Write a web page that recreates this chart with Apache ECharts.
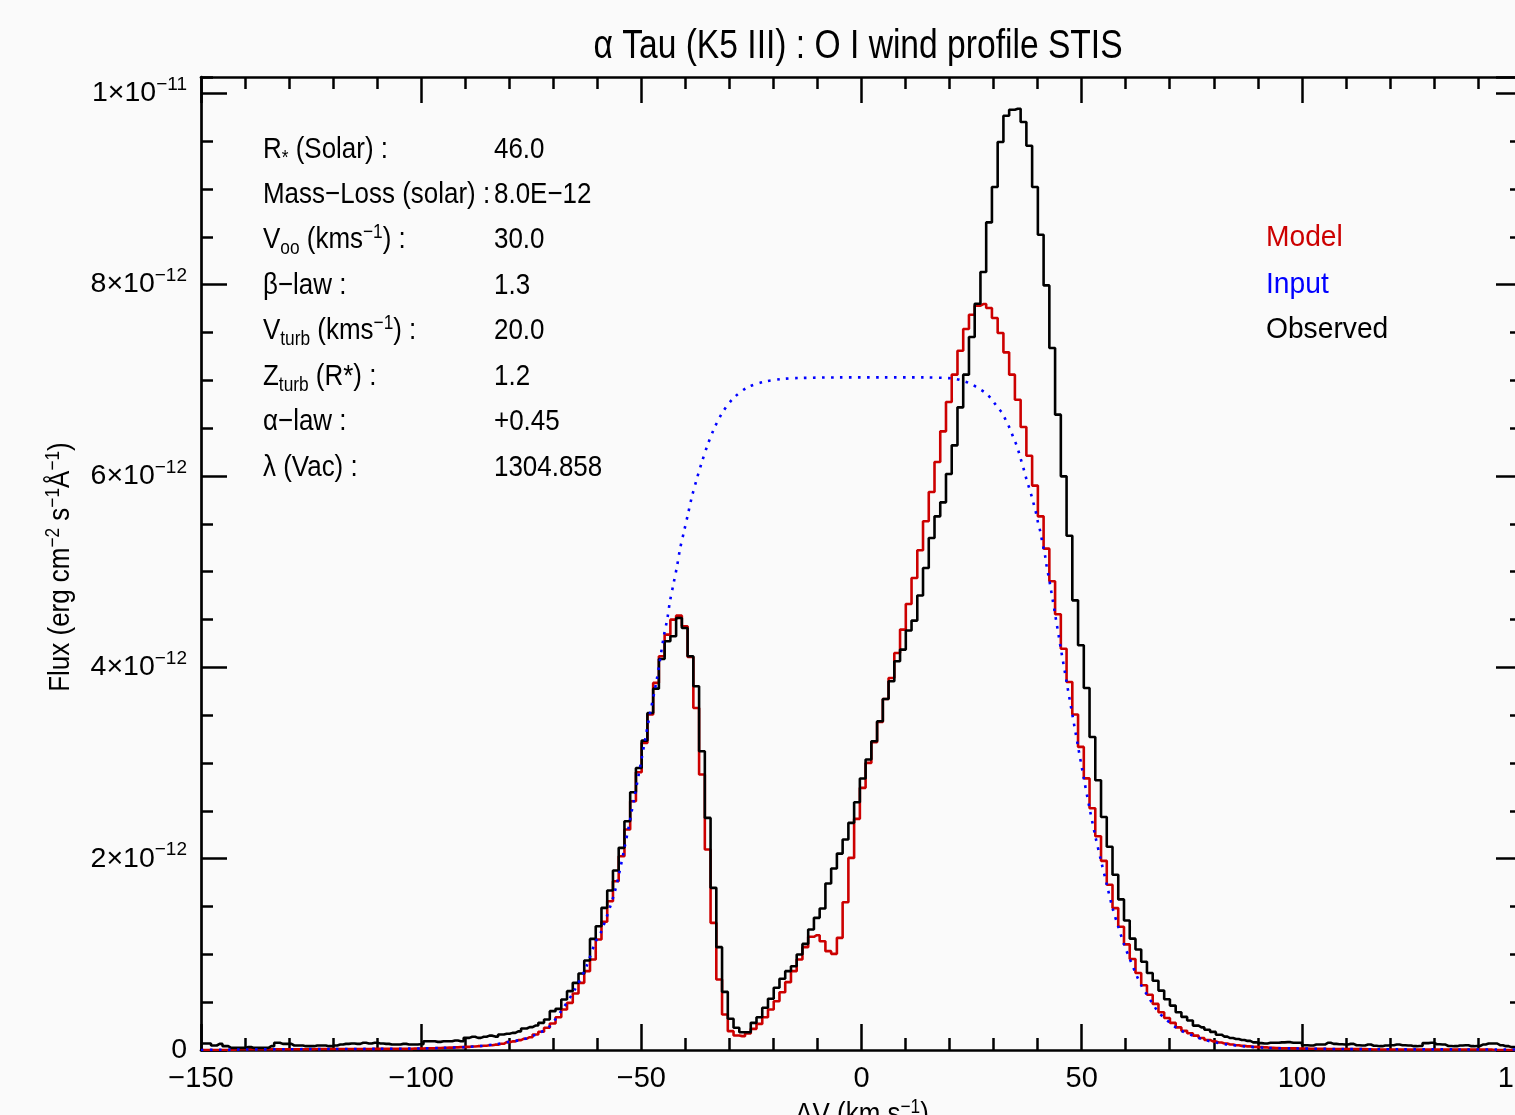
<!DOCTYPE html>
<html><head><meta charset="utf-8">
<script src="https://cdn.jsdelivr.net/npm/echarts@6/dist/echarts.min.js"></script>
<style>html,body{margin:0;padding:0;background:#fafafa}#c{width:1515px;height:1115px}</style>
</head><body><div id="c"></div>
<script>
const FONT = "'Liberation Sans','Helvetica','Arial',sans-serif";

// velocity bins (km/s): centre of first bin and bin width
const firstBinCenter = -149.68;
const binWidth = 1.304;

// Observed flux (units of 1e-12 erg cm-2 s-1 A-1), one value per bin
const observed = [
  0.068,0.068,0.047,0.064,0.040,0.022,0.022,0.022,0.030,0.022,
  0.022,0.022,0.040,0.075,0.064,0.064,0.047,0.047,0.040,0.040,
  0.047,0.047,0.040,0.047,0.057,0.064,0.068,0.064,0.075,0.068,
  0.075,0.068,0.064,0.057,0.057,0.064,0.057,0.057,0.060,0.092,
  0.092,0.085,0.092,0.092,0.099,0.092,0.127,0.138,0.127,0.138,
  0.150,0.140,0.162,0.170,0.179,0.195,0.225,0.239,0.256,0.284,
  0.319,0.406,0.430,0.528,0.615,0.702,0.799,0.935,1.161,1.294,
  1.486,1.667,1.876,2.113,2.391,2.694,2.948,3.234,3.523,3.777,
  4.087,4.272,4.324,4.516,4.411,4.115,3.802,3.122,2.426,1.695,
  1.075,0.608,0.326,0.232,0.186,0.186,0.284,0.343,0.441,0.535,
  0.650,0.744,0.824,0.876,0.998,1.109,1.259,1.381,1.479,1.740,
  1.897,2.053,2.200,2.374,2.590,2.837,3.036,3.227,3.436,3.669,
  3.854,4.063,4.185,4.384,4.488,4.750,5.038,5.352,5.578,5.724,
  6.021,6.320,6.717,7.059,7.452,7.800,8.132,8.650,9.020,9.490,
  9.765,9.828,9.838,9.699,9.451,9.020,8.521,7.992,7.337,6.641,
  5.996,5.375,4.700,4.231,3.784,3.271,2.820,2.436,2.124,1.831,
  1.574,1.354,1.164,1.050,0.922,0.805,0.724,0.621,0.530,0.464,
  0.394,0.346,0.309,0.255,0.236,0.211,0.189,0.160,0.140,0.125,
  0.115,0.105,0.095,0.080,0.072,0.068,0.075,0.075,0.080,0.082,
  0.075,0.075,0.050,0.047,0.057,0.057,0.075,0.064,0.060,0.057,
  0.064,0.050,0.047,0.057,0.045,0.040,0.047,0.050,0.057,0.050,
  0.047,0.040,0.042,0.072,0.075,0.060,0.057,0.042,0.040,0.047,
  0.050,0.040,0.042,0.057,0.068,0.068,0.050,0.040,0.030,0.025
];

// Model flux, same bins
const model = [
  0.000,0.000,0.000,0.000,0.000,0.000,0.008,0.008,0.008,0.008,
  0.008,0.008,0.008,0.008,0.008,0.008,0.008,0.008,0.008,0.008,
  0.010,0.010,0.010,0.010,0.010,0.010,0.010,0.010,0.010,0.010,
  0.012,0.012,0.012,0.012,0.012,0.012,0.012,0.015,0.016,0.018,
  0.019,0.021,0.023,0.025,0.027,0.030,0.033,0.036,0.040,0.044,
  0.049,0.056,0.065,0.082,0.090,0.103,0.118,0.134,0.162,0.190,
  0.232,0.277,0.343,0.423,0.493,0.591,0.702,0.824,0.946,1.155,
  1.340,1.555,1.764,2.025,2.304,2.600,2.903,3.210,3.506,3.837,
  4.115,4.342,4.498,4.540,4.429,4.108,3.575,2.879,2.095,1.329,
  0.737,0.371,0.197,0.152,0.145,0.172,0.221,0.273,0.343,0.423,
  0.510,0.604,0.709,0.824,0.946,1.075,1.183,1.200,1.137,1.033,
  1.005,1.172,1.545,2.008,2.416,2.740,3.001,3.217,3.429,3.669,
  3.889,4.150,4.394,4.662,4.934,5.223,5.526,5.833,6.146,6.466,
  6.773,7.059,7.309,7.536,7.685,7.780,7.797,7.755,7.651,7.494,
  7.292,7.059,6.797,6.512,6.212,5.899,5.578,5.240,4.899,4.554,
  4.194,3.846,3.506,3.168,2.839,2.527,2.234,1.977,1.728,1.483,
  1.288,1.104,0.951,0.805,0.676,0.577,0.482,0.394,0.335,0.284,
  0.236,0.200,0.175,0.150,0.126,0.105,0.090,0.078,0.068,0.057,
  0.050,0.043,0.038,0.033,0.030,0.027,0.022,0.020,0.019,0.018,
  0.017,0.016,0.014,0.013,0.012,0.012,0.011,0.011,0.010,0.010,
  0.010,0.009,0.009,0.008,0.006,0.006,0.006,0.006,0.006,0.006,
  0.006,0.006,0.006,0.006,0.006,0.006,0.006,0.006,0.006,0.006,
  0.006,0.006,0.006,0.006,0.006,0.000,0.000,0.000,0.000,0.000
];

// Input (intrinsic) profile, read as velocity / flux pairs
const inputVelocity = [-150,-140,-130,-120,-110,-100,-95,-90,-86,-83,-80,-77,-74,-71,-68,-65,-62.5,-60.5,
  -59.0,-56.0,-53.75,-51.6,-49.96,-48.3,-46.5,-44.9,-44.1,-43.5,-42.7,-41.9,-41.2,-40.3,-39.4,-38.5,-37.4,
  -36.25,-34.95,-33.45,-31.55,-29.05,-25.9,-22.1,-18.0,-14.0,-5,5,14,20.6,22.6,24.5,26.4,28.1,29.4,30.7,
  31.9,32.8,33.75,34.5,35.3,35.9,36.9,37.5,38.1,38.7,39.2,39.7,40.1,40.6,41.0,41.4,41.8,42.1,42.5,
  43.97,45.27,46.58,47.88,49.19,50.49,51.79,53.10,54.40,55.71,57.01,58.32,59.62,60.93,62.23,63.53,64.84,
  66.14,67.45,68.75,70.06,71.36,72.66,75.27,77.88,80.49,83.1,87.0,92.2,98.7,109.2,122.2,135.2,150];
const inputFlux = [0.0,0.005,0.008,0.010,0.012,0.016,0.022,0.030,0.045,0.060,0.085,0.110,0.160,0.240,0.420,0.640,0.870,1.120,
  1.250,1.659,2.130,2.635,3.036,3.453,3.871,4.324,4.506,4.690,4.871,5.055,5.240,5.421,5.603,5.787,5.969,
  6.146,6.324,6.497,6.665,6.815,6.926,6.985,7.014,7.024,7.030,7.030,7.030,7.020,7.000,6.970,6.920,6.870,6.810,6.730,
  6.660,6.580,6.490,6.400,6.310,6.220,6.060,5.960,5.870,5.780,5.690,5.600,5.510,5.420,5.320,5.230,5.140,5.040,4.950,
  4.554,4.194,3.846,3.506,3.168,2.839,2.527,2.234,1.977,1.728,1.483,1.288,1.104,0.951,0.805,0.676,0.577,
  0.482,0.394,0.335,0.284,0.236,0.200,0.150,0.105,0.078,0.057,0.038,0.022,0.016,0.010,0.007,0.006,0.005];

// axis tick values / labels
const yTickValues = [0, 2, 4, 6, 8, 10];
const yTickText = ['{m|0}', '{m|2×10}{s|−12}', '{m|4×10}{s|−12}', '{m|6×10}{s|−12}', '{m|8×10}{s|−12}', '{m|1×10}{s|−11}'];
const xMin = -150, xMax = 150, xStep = 50;
const yMin = 0, yMax = 10.17;

const annLabels = [
  '{m|R}{sub|*}{m| (Solar) :}',
  '{m|Mass−Loss (solar) :}',
  '{m|V}{sub|oo}{m| (kms}{sup|−1}{m|) :}',
  '{m|β−law :}',
  '{m|V}{sub|turb}{m| (kms}{sup|−1}{m|) :}',
  '{m|Z}{sub|turb}{m| (R*) :}',
  '{m|α−law :}',
  '{m|λ (Vac) :}'
];
const annValues = ['46.0', '8.0E−12', '30.0', '1.3', '20.0', '1.2', '+0.45', '1304.858'];
const legendNames = ['Model', 'Input', 'Observed'];
const legendColors = ['#cc0000', '#0000ff', '#000000'];

const obsData = observed.map((f, i) => [firstBinCenter + i * binWidth, f]);
const modelData = model.map((f, i) => [firstBinCenter + i * binWidth, f]);
const inputData = inputVelocity.map((v, i) => [v, inputFlux[i]]);

function rich(size, small) {
  return {
    m: { fontFamily: FONT, fontSize: size, color: '#000', lineHeight: 36, verticalAlign: 'middle' },
    s: { fontFamily: FONT, fontSize: small, color: '#000', lineHeight: 36, verticalAlign: 'top' },
    sup: { fontFamily: FONT, fontSize: small, color: '#000', lineHeight: 36, verticalAlign: 'top' },
    sub: { fontFamily: FONT, fontSize: small, color: '#000', lineHeight: 36, verticalAlign: 'bottom' }
  };
}
const richText = rich(30, 20);
const richTick = rich(28.5, 19);

function xFmt(v) { return v < 0 ? '−' + Math.abs(v) : String(v); }
function yFmt(v) {
  for (let i = 0; i < yTickValues.length; i++) if (Math.abs(v - yTickValues[i]) < 1e-6) return yTickText[i];
  return '';
}

const tickStyle = { color: '#000', width: 2.5 };
function xAxisCfg(pos, showLabel) {
  return {
    type: 'value', position: pos, min: xMin, max: xMax, interval: xStep,
    axisLine: { show: true, onZero: false, lineStyle: { color: '#000', width: 2.7 } },
    axisTick: { show: true, inside: true, length: 26, lineStyle: tickStyle },
    minorTick: { show: true, splitNumber: 5, length: 12, lineStyle: tickStyle },
    axisLabel: { show: showLabel, formatter: xFmt, fontFamily: FONT, fontSize: 29, color: '#000', margin: 14 },
    splitLine: { show: false }, minorSplitLine: { show: false }
  };
}
function yAxisCfg(pos, interval, len, showLine, showLabel) {
  return {
    type: 'value', position: pos, min: yMin, max: yMax, interval: interval,
    axisLine: { show: showLine, onZero: false, lineStyle: { color: '#000', width: 2.7 } },
    axisTick: { show: true, inside: true, length: len, lineStyle: tickStyle },
    axisLabel: { show: showLabel, formatter: yFmt, margin: 14, rich: richTick, showMaxLabel: false },
    splitLine: { show: false }
  };
}

const SX = 0.865;
const graphics = [];
graphics.push({ type: 'text', x: 858, y: 47, scaleX: 0.84, style: { text: 'α Tau (K5 III) : O I wind profile STIS', fontFamily: FONT, fontSize: 40, fill: '#000', align: 'center', verticalAlign: 'middle' } });
const rowY = [150, 195, 240, 286, 331, 377, 422, 468];
annLabels.forEach((t, i) => {
  graphics.push({ type: 'text', x: 263, y: rowY[i], scaleX: SX, style: { text: t, rich: richText, align: 'left', verticalAlign: 'middle' } });
  graphics.push({ type: 'text', x: 494, y: rowY[i], scaleX: SX, style: { text: annValues[i], fontFamily: FONT, fontSize: 30, fill: '#000', align: 'left', verticalAlign: 'middle' } });
});
const legY = [238, 285, 330];
legendNames.forEach((t, i) => {
  graphics.push({ type: 'text', x: 1266, y: legY[i], scaleX: 0.94, style: { text: t, fontFamily: FONT, fontSize: 30, fill: legendColors[i], align: 'left', verticalAlign: 'middle' } });
});
graphics.push({ type: 'text', x: 61, y: 567, rotation: Math.PI / 2, scaleX: SX,
  style: { text: '{m|Flux (erg cm}{s|−2}{m| s}{s|−1}{m|Å}{s|−1}{m|)}', rich: richText, align: 'center', verticalAlign: 'middle' } });
graphics.push({ type: 'text', x: 862, y: 1097, scaleX: SX,
  style: { text: '{m|ΔV (km s}{s|−1}{m|)}', rich: richText, align: 'center', verticalAlign: 'top' } });

const chart = echarts.init(document.getElementById('c'), null, { renderer: 'canvas' });
chart.setOption({
  backgroundColor: '#fafafa',
  animation: false,
  grid: { left: 201, top: 77, right: -7, bottom: 65, containLabel: false, outerBoundsMode: 'none' },
  xAxis: [xAxisCfg('bottom', true), xAxisCfg('top', false)],
  yAxis: [
    yAxisCfg('left', 2, 26, true, true),
    yAxisCfg('left', 0.5, 12, false, false),
    yAxisCfg('right', 2, 26, true, false),
    yAxisCfg('right', 0.5, 12, false, false)
  ],
  series: [
    { name: 'Model', type: 'line', data: modelData, step: 'middle', showSymbol: false, silent: true, z: 2,
      lineStyle: { color: '#cc0000', width: 2.6 } },
    { name: 'Observed', type: 'line', data: obsData, step: 'middle', showSymbol: false, silent: true, z: 3,
      lineStyle: { color: '#000000', width: 2.6 } },
    { name: 'Input', type: 'line', data: inputData, showSymbol: false, silent: true, z: 4, smooth: 0.3,
      lineStyle: { color: '#0000ff', width: 2.6, type: [2.6, 6.4] } }
  ],
  graphic: graphics
});
</script>
</body></html>
